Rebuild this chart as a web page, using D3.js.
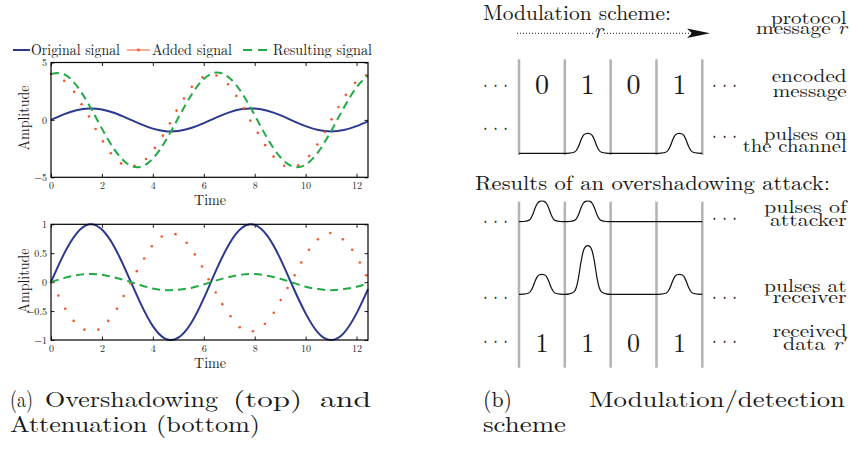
<!DOCTYPE html>
<html>
<head>
<meta charset="utf-8">
<script src="https://cdn.jsdelivr.net/npm/d3@7"></script>
<style>
  body { margin: 0; background: #fff; }
  svg { display: block; }
  text { font-family: "Latin Modern Roman", "Liberation Serif", serif; fill: #1a1a1a; }
</style>
</head>
<body>
<div id="chart"></div>
<script>
// ---- data ----
var tSample = [0, 0.5, 1, 1.5, 2, 2.5, 3, 3.5, 4, 4.5, 5, 5.5, 6, 6.5, 7, 7.5, 8, 8.5, 9, 9.5, 10, 10.5, 11, 11.5, 12, 12.45];
var original = [0, 0.48, 0.84, 1.0, 0.91, 0.6, 0.14, -0.35, -0.76, -0.98, -0.96, -0.71, -0.28, 0.22, 0.66, 0.94, 0.99, 0.8, 0.41, -0.08, -0.54, -0.88, -1.0, -0.88, -0.54, -0.12];

// overshadowing (top)
var overResult = [4.0, 3.99, 3.0, 1.28, -0.76, -2.61, -3.82, -4.1, -3.37, -1.82, 0.18, 2.13, 3.56, 4.12, 3.67, 2.33, 0.41, -1.61, -3.23, -4.06, -3.9, -2.78, -0.98, 1.06, 2.84, 3.86];
var overAddedT = [0, 0.52, 0.91, 1.2, 1.49, 1.75, 2.04, 2.35, 2.75, 3.28, 3.73, 4.08, 4.39, 4.67, 4.93, 5.22, 5.53, 5.95, 6.5, 6.95, 7.28, 7.57, 7.83, 8.12, 8.41, 8.74, 9.16, 9.71, 10.14, 10.46, 10.75, 11.02, 11.29, 11.58, 11.94, 12.38];
var overAddedV = [4.0, 3.4, 2.44, 1.36, 0.29, -0.79, -1.87, -2.91, -3.79, -4.0, -3.4, -2.44, -1.37, -0.29, 0.81, 1.86, 2.88, 3.72, 3.87, 3.11, 2.09, 1.01, -0.06, -1.13, -2.2, -3.2, -3.99, -3.96, -3.14, -2.15, -1.05, 0.05, 1.13, 2.18, 3.23, 3.89];

// attenuation (bottom)
var attResult = [0, 0.07, 0.12, 0.14, 0.13, 0.08, 0.02, -0.05, -0.11, -0.14, -0.13, -0.1, -0.04, 0.03, 0.09, 0.13, 0.14, 0.11, 0.06, -0.01, -0.08, -0.12, -0.14, -0.12, -0.08, -0.02];
var attAddedT = [0, 0.29, 0.56, 0.89, 1.31, 1.86, 2.25, 2.59, 2.85, 3.12, 3.37, 3.66, 3.96, 4.35, 4.89, 5.33, 5.65, 5.93, 6.19, 6.47, 6.73, 7.05, 7.41, 7.93, 8.4, 8.75, 9.02, 9.29, 9.57, 9.83, 10.13, 10.48, 10.97, 11.46, 11.83, 12.13, 12.38];
var attAddedV = [0, -0.23, -0.46, -0.67, -0.82, -0.82, -0.67, -0.46, -0.24, -0.02, 0.19, 0.41, 0.62, 0.79, 0.83, 0.68, 0.48, 0.27, 0.05, -0.18, -0.38, -0.59, -0.78, -0.85, -0.72, -0.53, -0.31, -0.1, 0.12, 0.34, 0.56, 0.74, 0.85, 0.74, 0.56, 0.34, 0.12];

var timeTicks = [0, 2, 4, 6, 8, 10, 12];
var overTicks = [-5, 0, 5];
var attTicks = [-1, -0.5, 0, 0.5, 1];
var legendLabels = ["Original signal", "Added signal", "Resulting signal"];

// modulation scheme (right)
var encodedBits = [0, 1, 0, 1];
var channelPulses = [0, 1, 0, 1];
var attackerPulses = [1, 1, 0, 0];
var receiverPulses = [1, 2.43, 0, 1];
var receivedBits = [1, 1, 0, 1];
var pulseF = [0, 0.1, 0.2, 0.25, 0.3, 0.35, 0.4, 0.45, 0.5, 0.55, 0.6, 0.65, 0.7, 0.75, 0.8, 0.9, 1];
var pulseH = [0, 0.01, 0.05, 0.14, 0.35, 0.65, 0.88, 0.98, 1, 0.98, 0.88, 0.65, 0.35, 0.14, 0.05, 0.01, 0];

var blue = "#2b3990", red = "#ef5a2c", green = "#22aa44";
var serif = "Latin Modern Roman, Liberation Serif, serif";

var svg = d3.select("#chart").append("svg")
    .attr("width", 850)
    .attr("height", 450);

// text helper, optional fixed width (the figure is stretched horizontally)
function label(s, x, y, size, anchor, width) {
  var t = svg.append("text")
      .attr("x", x)
      .attr("y", y)
      .attr("font-size", size)
      .attr("text-anchor", anchor || "start")
      .text(s);
  if (width) t.attr("textLength", width).attr("lengthAdjust", "spacingAndGlyphs");
  return t;
}

// ---- left: two signal plots ----
var x = d3.scaleLinear().domain([0, 12.45]).range([51, 368]);

function signalPanel(top, bottom, yDomain, yTicks, result, addedT, addedV, ampY, timeY) {
  var y = d3.scaleLinear().domain(yDomain).range([bottom, top]);
  var g = svg.append("g");

  var axes = [
    g.append("g").attr("transform", "translate(0," + bottom + ")")
      .call(d3.axisBottom(x).tickValues(timeTicks).tickSize(-3.5).tickSizeOuter(0).tickPadding(5)),
    g.append("g").attr("transform", "translate(0," + top + ")")
      .call(d3.axisTop(x).tickValues(timeTicks).tickSize(-3.5).tickSizeOuter(0).tickFormat("")),
    g.append("g").attr("transform", "translate(51,0)")
      .call(d3.axisLeft(y).tickValues(yTicks).tickSize(-3.5).tickSizeOuter(0).tickPadding(4).tickFormat(d3.format("~g"))),
    g.append("g").attr("transform", "translate(368,0)")
      .call(d3.axisRight(y).tickValues(yTicks).tickSize(-3.5).tickSizeOuter(0).tickFormat(""))
  ];
  axes.forEach(function (a) {
    a.attr("font-family", serif).attr("font-size", 10);
    a.select(".domain").remove();
    a.selectAll(".tick line").attr("stroke", "#000").attr("stroke-width", 0.9);
    a.selectAll(".tick text").attr("fill", "#333");
  });

  var line = d3.line()
      .x(function (d, i) { return x(tSample[i]); })
      .y(function (d) { return y(d); })
      .curve(d3.curveNatural);

  g.append("path")
      .attr("d", line(original))
      .attr("fill", "none")
      .attr("stroke", blue)
      .attr("stroke-width", 2);

  g.selectAll(".added")
    .data(addedV)
    .enter()
    .append("circle")
      .attr("cx", function (d, i) { return x(addedT[i]); })
      .attr("cy", function (d) { return y(d); })
      .attr("r", 1.3)
      .attr("fill", red);

  g.append("path")
      .attr("d", line(result))
      .attr("fill", "none")
      .attr("stroke", green)
      .attr("stroke-width", 2)
      .attr("stroke-dasharray", "8,5");

  g.append("rect")
      .attr("x", 51).attr("y", top)
      .attr("width", 317).attr("height", bottom - top)
      .attr("fill", "none")
      .attr("stroke", "#000")
      .attr("stroke-width", 1.2);

  label("Time", 210, timeY, 15, "middle", 32);
  label("Amplitude", 0, 0, 15, "middle", 65)
      .attr("transform", "translate(28.5," + ampY + ")rotate(-90)");
}

signalPanel(62.5, 177.3, [-5, 5], overTicks, overResult, overAddedT, overAddedV, 118, 205);
signalPanel(224.3, 340, [-1, 1], attTicks, attResult, attAddedT, attAddedV, 281, 367.5);

// legend
svg.append("line").attr("x1", 13).attr("x2", 30).attr("y1", 50).attr("y2", 50)
    .attr("stroke", blue).attr("stroke-width", 2);
svg.append("line").attr("x1", 127).attr("x2", 150).attr("y1", 50).attr("y2", 50)
    .attr("stroke", red).attr("stroke-width", 1);
svg.append("circle").attr("cx", 138.5).attr("cy", 50).attr("r", 1.4).attr("fill", red);
svg.append("line").attr("x1", 243).attr("x2", 270).attr("y1", 50).attr("y2", 50)
    .attr("stroke", green).attr("stroke-width", 2).attr("stroke-dasharray", "9,6");
label(legendLabels[0], 31, 54.5, 15, "start", 89);
label(legendLabels[1], 152, 54.5, 15, "start", 80);
label(legendLabels[2], 273, 54.5, 15, "start", 99);

// ---- right: modulation scheme ----
var cell = d3.scaleLinear().domain([0, 4]).range([519, 702.3]);

[[59.3, 155], [201.7, 367.7]].forEach(function (seg) {
  svg.selectAll(null)
    .data(d3.range(5))
    .enter()
    .append("line")
      .attr("x1", function (d) { return cell(d); })
      .attr("x2", function (d) { return cell(d); })
      .attr("y1", seg[0])
      .attr("y2", seg[1])
      .attr("stroke", "#b3b3b3")
      .attr("stroke-width", 2.5);
});

function pulseRow(amps, base, unit) {
  var pts = [];
  amps.forEach(function (a, i) {
    pulseF.forEach(function (f, j) {
      if (i > 0 && j === 0) return;
      pts.push([cell(i + f), base - a * unit * pulseH[j]]);
    });
  });
  svg.append("path")
      .attr("d", d3.line().curve(d3.curveMonotoneX)(pts))
      .attr("fill", "none")
      .attr("stroke", "#111")
      .attr("stroke-width", 1.2);
}
pulseRow(channelPulses, 153.3, 20);
pulseRow(attackerPulses, 221.7, 20.7);
pulseRow(receiverPulses, 294.3, 20);

function bitRow(bits, baseline, size) {
  bits.forEach(function (b, i) {
    label(String(b), cell(i + 0.5), baseline, size, "middle");
  });
}
bitRow(encodedBits, 94.3, 28);
bitRow(receivedBits, 351.7, 26);

// \cdots left / right of each row: [left centre y, right centre y]
[[85, 85], [128.3, 136.7], [221.7, 218.3], [297.7, 297.7], [341.7, 341.7]].forEach(function (r) {
  label(". . .", 483, r[0] + 1.5, 22, "start", 25);
  label(". . .", 712, r[1] + 1.5, 22, "start", 25);
});

label("Modulation scheme:", 483, 19.5, 21, "start", 188);
label("Results of an overshadowing attack:", 475, 190, 20, "start", 355);

// dotted arrow with r
svg.append("line").attr("x1", 517).attr("x2", 593).attr("y1", 33.3).attr("y2", 33.3)
    .attr("stroke", "#111").attr("stroke-width", 1).attr("stroke-dasharray", "1,2");
svg.append("line").attr("x1", 604).attr("x2", 692).attr("y1", 33.3).attr("y2", 33.3)
    .attr("stroke", "#111").attr("stroke-width", 1).attr("stroke-dasharray", "1,2");
svg.append("path")
    .attr("d", "M710,33.3L687,28.6L692,33.3L687,38Z")
    .attr("fill", "#111");
label("r", 598.5, 38.3, 22, "middle").attr("font-style", "italic");

// right-hand row labels
var rowLabels = [
  ["protocol", 24, 75.7], ["message |r", 34.3, 90.7],
  ["encoded", 81.7, 75], ["message", 96.7, 74],
  ["pulses on", 140, 82.7], ["the channel", 151.7, 104],
  ["pulses of", 213.3, 82.7], ["attacker", 225.7, 76.7],
  ["pulses at", 291.7, 82.7], ["receiver", 303.3, 74],
  ["received", 336.7, 74], ["data |r\u2032", 350, 63.7]
];
rowLabels.forEach(function (r) {
  var parts = r[0].split("|");
  var t = label(parts[0], 846.7, r[1], 18, "end", r[2]);
  if (parts[1]) t.append("tspan").attr("font-style", "italic").text(parts[1]);
});

// captions
label("(a)", 10, 406.5, 22, "start", 23);
label("Overshadowing", 45, 406.5, 22, "start", 173);
label("(top)", 233, 406.5, 22, "start", 69);
label("and", 320, 406.5, 22, "start", 51);
label("Attenuation (bottom)", 10, 432.3, 22, "start", 250);
label("(b)", 483, 406.5, 22, "start", 29);
label("Modulation/detection", 589, 406.5, 22, "start", 256);
label("scheme", 483, 432.3, 22, "start", 83);
</script>
</body>
</html>
